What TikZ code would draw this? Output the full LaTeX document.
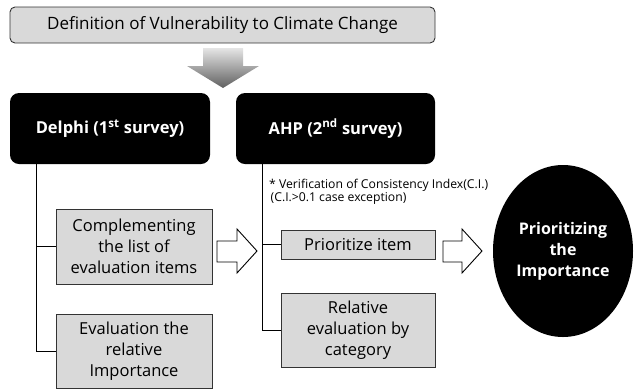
\documentclass[tikz,border=0pt]{standalone}
\usepackage{fontspec}
\setmainfont{Open Sans}
\usetikzlibrary{shapes.geometric}
\definecolor{boxgray}{HTML}{D9D9D9}
\definecolor{edgegray}{HTML}{333333}
\begin{document}
\begin{tikzpicture}[x=1pt,y=-1pt,
  topbox/.style={draw=edgegray,line width=0.9pt,fill=boxgray,rounded corners=5pt,
    inner sep=0pt,font=\fontsize{17}{18}\selectfont},
  headbox/.style={fill=black,rounded corners=9pt,inner sep=0pt,text=white,
    font=\fontsize{16.5}{19}\selectfont\bfseries},
  itembox/.style={draw=edgegray,line width=0.9pt,fill=boxgray,inner sep=0pt,align=center,
    font=\fontsize{16.5}{21}\selectfont},
  link/.style={draw=black,line width=0.8pt},
  hollow/.style={draw=black,line width=0.9pt,fill=white,line join=miter},
  note/.style={inner sep=0pt,align=left,anchor=north west,font=\fontsize{12.2}{12.5}\selectfont}]
\useasboundingbox (0,0) rectangle (634,389);

% title
\node[topbox,minimum width=425pt,minimum height=36pt] (def) at (222.5,25) {Definition of Vulnerability to Climate Change};

% downward shaded arrow
\shade[top color=gray!20,bottom color=gray!75!black,draw=none]
  (203,48) -- (243,48) -- (243,66) -- (259,66) -- (223,88) -- (187,66) -- (203,66) -- cycle;

% survey headers
\node[headbox,minimum width=200pt,minimum height=71pt] (delphi) at (110,128.5) {Delphi (1\textsuperscript{st} survey)};
\node[headbox,minimum width=199pt,minimum height=71pt] (ahp) at (335.5,128.5) {AHP (2\textsuperscript{nd} survey)};

% Delphi items
\node[itembox,minimum width=156pt,minimum height=75pt] (comp) at (134,246.5) {Complementing\\the list of\\evaluation items};
\node[itembox,minimum width=156pt,minimum height=74pt] (evalimp) at (134,351) {Evaluation the\\relative\\Importance};

% AHP items
\node[note] (ci) at (269,179) {* Verification of Consistency Index(C.I.)\\\hspace{1.5pt}(C.I.>0.1 case exception)};
\node[itembox,minimum width=154pt,minimum height=29pt] (prio) at (358,244.5) {Prioritize item};
\node[itembox,minimum width=154pt,minimum height=74pt] (rel) at (358,330) {Relative\\evaluation by\\category};

% result
\node[ellipse,fill=black,minimum width=140pt,minimum height=172pt,inner sep=0pt,text=white,align=center,
  font=\fontsize{16}{21}\selectfont\bfseries] (result) at (563,251) {Prioritizing\\the\\Importance};

% tree connectors
\draw[link] ([xshift=27pt]delphi.south west) |- (comp.west);
\draw[link] ([xshift=27pt]delphi.south west) |- (evalimp.west);
\draw[link] ([xshift=27pt]ahp.south west) |- (prio.west);
\draw[link] ([xshift=27pt]ahp.south west) |- (rel.west);

% hollow block arrows
\draw[hollow] (217,241) -- (237,241) -- (237,229) -- (257,251) -- (237,273) -- (237,262) -- (217,262) -- cycle;
\draw[hollow] (443,241) -- (462,241) -- (462,229) -- (482,251) -- (462,273) -- (462,262) -- (443,262) -- cycle;
\end{tikzpicture}
\end{document}
